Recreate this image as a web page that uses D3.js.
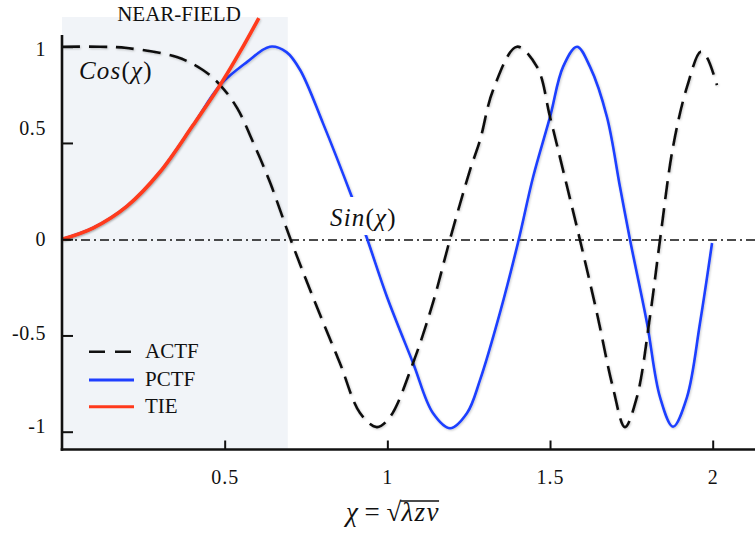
<!DOCTYPE html>
<html>
<head>
<meta charset="utf-8">
<script src="https://cdn.jsdelivr.net/npm/d3@7"></script>
<style>
  body { margin: 0; background: #fff; }
  svg { display: block; }
  svg text { font-family: "Liberation Serif", "Times New Roman", "DejaVu Serif", serif; }
</style>
</head>
<body>
<div id="chart"></div>
<script>
// ticks
const xTicks = [0.5, 1, 1.5, 2];
const yTicks = [1, 0.5, 0, -0.5, -1];
const yTickLabels = ["1", "0.5", "0", "-0.5", "-1"];
const nearField = [0, 0.694];

// ACTF (dashed)
const actfX = [0, 0.117, 0.200, 0.353, 0.433, 0.486, 0.538, 0.587, 0.639, 0.701, 0.771, 0.854, 0.916, 0.968, 1.008, 1.079, 1.140, 1.192, 1.254, 1.285, 1.325, 1.398, 1.460, 1.500, 1.540, 1.592, 1.644, 1.693, 1.730, 1.767, 1.807, 1.838, 1.878, 1.921, 1.963, 1.981, 2.013];
const actfY = [1.0, 1.0, 0.993, 0.946, 0.879, 0.801, 0.682, 0.505, 0.297, 0.006, -0.300, -0.643, -0.903, -0.976, -0.924, -0.643, -0.331, -0.004, 0.359, 0.515, 0.775, 1.0, 0.895, 0.635, 0.359, -0.004, -0.383, -0.768, -0.976, -0.820, -0.404, -0.004, 0.479, 0.791, 0.974, 0.948, 0.801];

// PCTF (blue)
const pctfX = [0, 0.095, 0.200, 0.301, 0.403, 0.486, 0.569, 0.639, 0.690, 0.732, 0.802, 0.891, 0.937, 0.999, 1.079, 1.140, 1.193, 1.245, 1.285, 1.346, 1.402, 1.448, 1.500, 1.540, 1.583, 1.623, 1.675, 1.715, 1.746, 1.798, 1.838, 1.878, 1.921, 1.961, 1.998];
const pctfY = [0, 0.058, 0.172, 0.349, 0.593, 0.801, 0.921, 1.0, 0.972, 0.879, 0.603, 0.219, 0.006, -0.300, -0.643, -0.903, -0.982, -0.903, -0.731, -0.383, -0.015, 0.323, 0.635, 0.895, 1.0, 0.895, 0.635, 0.272, -0.004, -0.435, -0.820, -0.974, -0.820, -0.435, -0.020];

// TIE (red)
const tieX = [0, 0.095, 0.200, 0.301, 0.403, 0.486, 0.547, 0.605];
const tieY = [0, 0.058, 0.172, 0.349, 0.593, 0.801, 0.973, 1.149];

const seriesNames = ["ACTF", "PCTF", "TIE"];
const seriesColors = ["#111111", "#1f3fff", "#ff3a1c"];

const width = 755, height = 535;
const svg = d3.select("#chart").append("svg")
    .attr("width", width)
    .attr("height", height);

svg.append("rect").attr("width", width).attr("height", height).attr("fill", "#fff");

// soft shadow like the original drawing
const defs = svg.append("defs");
defs.append("filter").attr("id", "shadow")
    .attr("x", "-10%").attr("y", "-10%").attr("width", "120%").attr("height", "120%")
  .append("feDropShadow")
    .attr("dx", 0.8).attr("dy", 1).attr("stdDeviation", 0.8)
    .attr("flood-color", "#000").attr("flood-opacity", 0.22);

const x = d3.scaleLinear().domain([0, 2]).range([62, 712.7]);
const y = d3.scaleLinear().domain([-1, 1]).range([431.7, 46.7]);
const axisY = 449.5;

// near-field band
svg.append("rect")
    .attr("x", x(nearField[0]))
    .attr("y", 17)
    .attr("width", x(nearField[1]) - x(nearField[0]))
    .attr("height", axisY - 17)
    .attr("fill", "#f1f4f8");

svg.append("text")
    .attr("x", 179).attr("y", 21)
    .attr("text-anchor", "middle")
    .attr("font-size", 21)
    .attr("fill", "#111")
    .text("NEAR-FIELD");

// zero line (dash-dot)
svg.append("line")
    .attr("x1", x(0)).attr("x2", width)
    .attr("y1", y(0) + 0.8).attr("y2", y(0) + 0.8)
    .attr("stroke", "#111")
    .attr("stroke-width", 1.5)
    .attr("stroke-dasharray", "9,4,2,4");

// curves
const line = d3.line()
    .x(d => x(d[0]))
    .y(d => y(d[1]))
    .curve(d3.curveCatmullRom.alpha(0.5));

const actf = actfX.map((v, i) => [v, actfY[i]]);
const pctf = pctfX.map((v, i) => [v, pctfY[i]]);
const tie = tieX.map((v, i) => [v, tieY[i]]);

svg.append("path")
    .attr("d", line(pctf))
    .attr("fill", "none")
    .attr("stroke", seriesColors[1])
    .attr("stroke-width", 2.6)
    .attr("filter", "url(#shadow)");

svg.append("path")
    .attr("d", line(actf))
    .attr("fill", "none")
    .attr("stroke", seriesColors[0])
    .attr("stroke-width", 2.6)
    .attr("stroke-dasharray", "18,9")
    .attr("filter", "url(#shadow)");

svg.append("path")
    .attr("d", line(tie))
    .attr("fill", "none")
    .attr("stroke", seriesColors[2])
    .attr("stroke-width", 3.6)
    .attr("filter", "url(#shadow)");

// curve labels
function fnLabel(px, py, name) {
  const t = svg.append("text")
      .attr("x", px).attr("y", py)
      .attr("font-size", 25)
      .attr("letter-spacing", 1.2)
      .attr("fill", "#111");
  t.append("tspan").attr("font-style", "italic").text(name);
  t.append("tspan").text("(");
  t.append("tspan").attr("font-style", "italic").text("χ");
  t.append("tspan").text(")");
  return t;
}
fnLabel(79, 79, "Cos");

// white box behind the sin label hides the blue line there
svg.append("rect")
    .attr("x", 326).attr("y", 197)
    .attr("width", 84).attr("height", 38)
    .attr("fill", "#fff");
fnLabel(330, 226, "Sin");

// axes
const xAxis = d3.axisBottom(x)
    .tickValues(xTicks)
    .tickFormat(d => String(d))
    .tickSizeInner(-9)
    .tickSizeOuter(0)
    .tickPadding(20);
const gx = svg.append("g")
    .attr("transform", `translate(0,${axisY})`)
    .call(xAxis);
gx.attr("font-family", null);
gx.select(".domain").remove();
gx.selectAll(".tick line").attr("stroke", "#111").attr("stroke-width", 2);
gx.selectAll(".tick text")
    .attr("font-size", 20)
    .attr("letter-spacing", 1)
    .attr("fill", "#111");

// a few y labels sit off their ticks in the original
const yLabelNudge = { "1": 2, "0.5": -15, "-0.5": -2, "-1": -6 };
const yAxis = d3.axisLeft(y)
    .tickValues(yTicks)
    .tickFormat((d, i) => yTickLabels[i])
    .tickSizeInner(-11)
    .tickSizeOuter(0)
    .tickPadding(16);
const gy = svg.append("g")
    .attr("transform", `translate(${x(0)},0)`)
    .call(yAxis);
gy.attr("font-family", null);
gy.select(".domain").remove();
gy.selectAll(".tick line").attr("stroke", "#111").attr("stroke-width", 2);
gy.selectAll(".tick text")
    .attr("font-size", 20)
    .attr("letter-spacing", 0.6)
    .attr("fill", "#111")
    .attr("y", function () { return yLabelNudge[this.textContent] || 0; });

svg.append("line")
    .attr("x1", x(0)).attr("x2", x(0))
    .attr("y1", 35).attr("y2", axisY + 1.2)
    .attr("stroke", "#111").attr("stroke-width", 2.6);
svg.append("line")
    .attr("x1", x(0) - 1.3).attr("x2", width)
    .attr("y1", axisY).attr("y2", axisY)
    .attr("stroke", "#111").attr("stroke-width", 2.6);

// axis title: chi = sqrt(lambda z nu)
const xTitle = svg.append("text")
    .attr("x", 393).attr("y", 521)
    .attr("text-anchor", "middle")
    .attr("font-size", 27)
    .attr("fill", "#111");
xTitle.append("tspan").attr("font-style", "italic").text("χ");
xTitle.append("tspan").text(" = √");
xTitle.append("tspan").attr("font-style", "italic").attr("letter-spacing", 1.5).text("λzν");
const tNode = xTitle.node();
const n = tNode.getNumberOfChars();
const barStart = tNode.getStartPositionOfChar(n - 3).x;
const barEnd = tNode.getEndPositionOfChar(n - 1).x;
svg.append("line")
    .attr("x1", barStart - 1).attr("x2", barEnd - 1)
    .attr("y1", 501).attr("y2", 501)
    .attr("stroke", "#111").attr("stroke-width", 1.3);

// legend
const legend = svg.append("g");
const legendRows = [351.7, 380, 406.7];
seriesNames.forEach((name, i) => {
  legend.append("line")
      .attr("x1", 89).attr("x2", 134)
      .attr("y1", legendRows[i]).attr("y2", legendRows[i])
      .attr("stroke", seriesColors[i])
      .attr("stroke-width", i === 0 ? 2.6 : 3)
      .attr("stroke-dasharray", i === 0 ? "16,10" : null);
  legend.append("text")
      .attr("x", 145).attr("y", legendRows[i] + 6)
      .attr("font-size", 21)
      .attr("fill", "#111")
      .text(name);
});
</script>
</body>
</html>
